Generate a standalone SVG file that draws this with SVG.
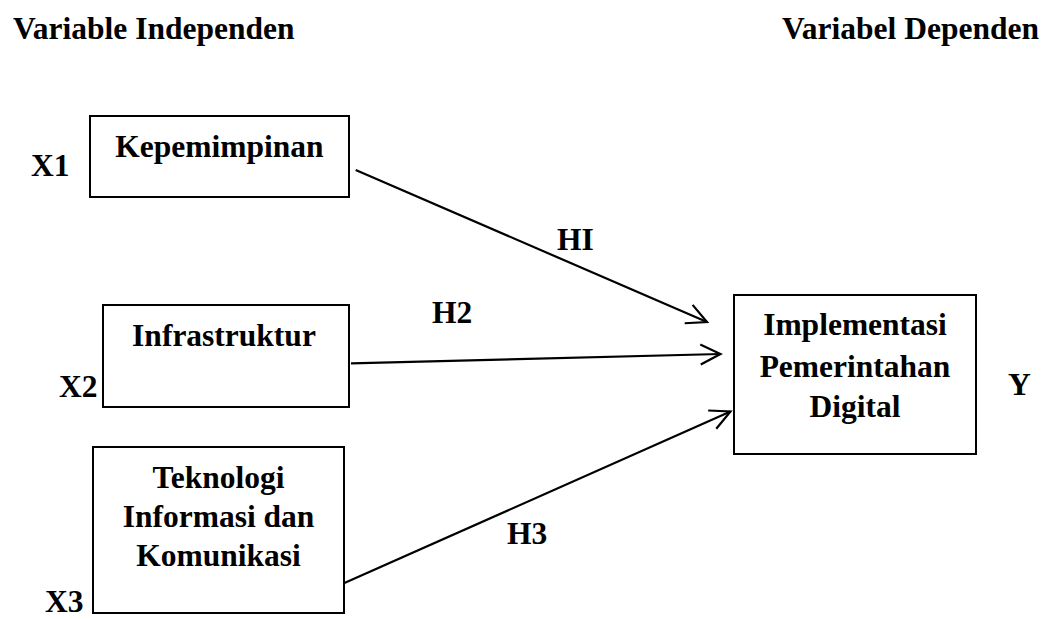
<svg xmlns="http://www.w3.org/2000/svg" width="1051" height="619" viewBox="0 0 1051 619">
<style>
text{font-family:"Liberation Serif","Times New Roman",serif;font-weight:bold;font-size:31.5px;fill:#000}
.c{text-anchor:middle}
rect{fill:#fff;stroke:#000;stroke-width:2}
.e{fill:none;stroke:#000;stroke-width:2.2}
</style>
<defs>
<marker id="ah" viewBox="-24 -14 28 28" markerWidth="28" markerHeight="28" refX="0" refY="0" orient="auto" markerUnits="userSpaceOnUse">
<path d="M-20,-10 L0,0 L-20,10" fill="none" stroke="#000" stroke-width="2.2"/>
</marker>
</defs>
<rect width="1051" height="619" fill="#fff" style="stroke:none"/>
<text x="13" y="39">Variable Independen</text>
<text x="782" y="39">Variabel Dependen</text>
<g id="x1">
<rect x="90" y="116" width="259" height="81"/>
<text class="c" x="219.5" y="157">Kepemimpinan</text>
<text x="31" y="176">X1</text>
</g>
<g id="x2">
<rect x="103" y="305" width="246" height="102"/>
<text class="c" x="224" y="346">Infrastruktur</text>
<text x="59" y="397">X2</text>
</g>
<g id="x3">
<rect x="93" y="447" width="251" height="166"/>
<text class="c" x="218.5" y="488">Teknologi</text>
<text class="c" x="218.5" y="527">Informasi dan</text>
<text class="c" x="218.5" y="566">Komunikasi</text>
<text x="45" y="612">X3</text>
</g>
<g id="y">
<rect x="734" y="295" width="242" height="159"/>
<text class="c" x="855" y="335">Implementasi</text>
<text class="c" x="855" y="376.5">Pemerintahan</text>
<text class="c" x="855" y="417">Digital</text>
<text x="1008" y="395">Y</text>
</g>
<g id="connectors">
<line class="e" x1="355.7" y1="170" x2="707" y2="322" marker-end="url(#ah)"/>
<line class="e" x1="351" y1="363.3" x2="720.5" y2="354" marker-end="url(#ah)"/>
<line class="e" x1="343.3" y1="583.5" x2="730.5" y2="411.5" marker-end="url(#ah)"/>
<text x="557" y="249.5">HI</text>
<text x="432" y="322.5">H2</text>
<text x="507" y="544">H3</text>
</g>
</svg>
